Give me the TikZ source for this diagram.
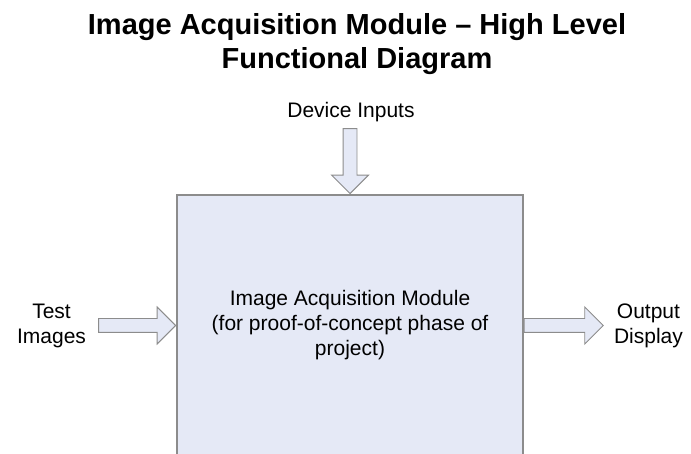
\documentclass[tikz,border=0pt]{standalone}
\usepackage{fontspec}
\setmainfont{Liberation Sans}
\usepackage{xcolor}
\usetikzlibrary{shapes.arrows,positioning}
\definecolor{boxfill}{HTML}{E5E9F6}
\definecolor{boxline}{HTML}{8C8C8C}

\begin{document}
\begin{tikzpicture}[x=1pt, y=-1pt,
    modulebox/.style={draw=boxline, fill=boxfill, line width=1.5pt, minimum width=346pt, minimum height=261pt, align=center, font=\fontsize{21}{25}\selectfont},
    blockarrow/.style={single arrow, draw=boxline, fill=boxfill, line width=0.9pt, inner xsep=0pt, inner ysep=6.5pt, single arrow head extend=11.5pt, single arrow tip angle=90},
    textlabel/.style={inner sep=0pt, align=center, font=\fontsize{21}{25}\selectfont}]
        \clip (0,0) rectangle (691,454);

        \node[inner sep=0pt, align=center, anchor=north, font=\bfseries\fontsize{29}{34}\selectfont] (title) at (357,13) {Image Acquisition Module -- High Level\\Functional Diagram};

        \node[modulebox] (module) at (350,325.5) {Image Acquisition Module\\(for proof-of-concept phase of\\project)};

        \node[blockarrow, minimum height=65pt, rotate=-90, anchor=tip] (arrIn) at (module.north) {};
        \node[textlabel, anchor=base] (inputs) at (351,118) {Device Inputs};

        \node[blockarrow, minimum height=77pt, anchor=tip] (arrTest) at (module.west) {};
        \node[textlabel, left=12pt of arrTest.tail] (test) {Test\\Images};

        \node[blockarrow, minimum height=79pt, anchor=tail] (arrOut) at (module.east) {};
        \node[textlabel, right=10pt of arrOut.tip] (output) {Output\\Display};
    \end{tikzpicture}
\end{document}
